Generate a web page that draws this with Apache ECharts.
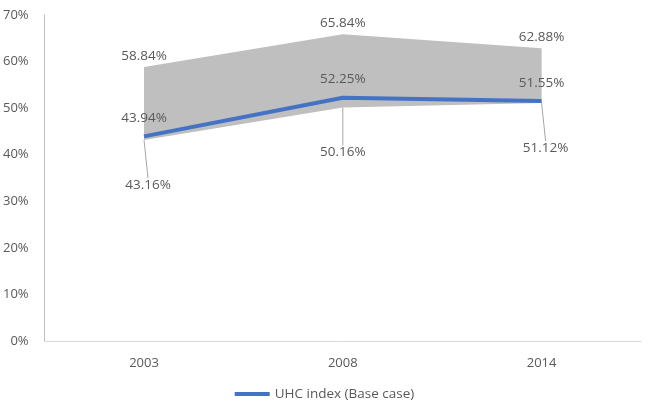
<!DOCTYPE html>
<html><head><meta charset="utf-8">
<script src="https://cdn.jsdelivr.net/npm/echarts@6/dist/echarts.min.js"></script>
<style>html,body{margin:0;padding:0;background:#fff}#c{width:649px;height:408px}</style>
</head><body><div id="c"></div>
<script>
var categories = ['2003', '2008', '2014'];
var lowerBound = [43.16, 50.16, 51.12];
var upperBound = [58.84, 65.84, 62.88];
var baseCase = [43.94, 52.25, 51.55];
var yTicks = [0, 10, 20, 30, 40, 50, 60, 70];

var bandHeight = upperBound.map(function (v, i) { return +(v - lowerBound[i]).toFixed(2); });
var FONT = '"Open Sans", sans-serif';
var TXT = '#595959';
var chart = echarts.init(document.getElementById('c'));
chart.setOption({
  animation: false,
  grid: { left: 44, right: 8, top: 15, bottom: 67 },
  legend: {
    data: ['UHC index (Base case)'],
    bottom: 2, left: 'center',
    icon: 'rect', itemWidth: 35, itemHeight: 4, itemGap: 2,
    textStyle: { color: TXT, fontFamily: FONT, fontSize: 13.5 }
  },
  xAxis: {
    type: 'category', data: categories, boundaryGap: true,
    axisLine: { lineStyle: { color: '#d9d9d9', width: 1 } },
    axisTick: { show: false },
    axisLabel: { color: TXT, fontFamily: FONT, fontSize: 13, margin: 16 }
  },
  yAxis: {
    type: 'value', min: yTicks[0], max: yTicks[yTicks.length - 1], interval: 10,
    axisLine: { show: true, lineStyle: { color: '#bfbfbf', width: 1 } },
    axisTick: { show: false },
    splitLine: { show: false },
    axisLabel: { color: TXT, fontFamily: FONT, fontSize: 13, margin: 16, formatter: '{value}%' }
  },
  series: [
    {
      name: 'lower', type: 'line', stack: 'band', data: lowerBound,
      symbol: 'circle', symbolSize: 0.1, showSymbol: true,
      itemStyle: { color: 'rgba(0,0,0,0)' },
      lineStyle: { width: 0, opacity: 0 }, silent: true,
      label: {
        show: true, position: 'bottom', distance: 2, color: TXT, fontFamily: FONT, fontSize: 13.5,
        formatter: function (p) { return lowerBound[p.dataIndex].toFixed(2) + '%'; }
      },
      labelLayout: function (p) { return { dy: 36, dx: p.dataIndex === 1 ? 0 : 4 }; },
      labelLine: { show: true, lineStyle: { color: '#a6a6a6', width: 1 } }
    },
    {
      name: 'band', type: 'line', stack: 'band', data: bandHeight,
      symbol: 'circle', symbolSize: 0.1, showSymbol: true,
      itemStyle: { color: 'rgba(0,0,0,0)' },
      lineStyle: { width: 0, opacity: 0 },
      areaStyle: { color: '#bfbfbf', opacity: 1 }, silent: true,
      label: {
        show: true, position: 'top', distance: 4, color: TXT, fontFamily: FONT, fontSize: 13.5,
        formatter: function (p) { return upperBound[p.dataIndex].toFixed(2) + '%'; }
      }
    },
    {
      name: 'UHC index (Base case)', type: 'line', data: baseCase,
      symbol: 'circle', symbolSize: 0.1, showSymbol: true,
      lineStyle: { color: '#4472c4', width: 4 },
      itemStyle: { color: '#4472c4' },
      label: {
        show: true, position: 'top', distance: 11, color: TXT, fontFamily: FONT, fontSize: 13.5,
        formatter: function (p) { return p.value.toFixed(2) + '%'; }
      }
    }
  ]
});
</script></body></html>
